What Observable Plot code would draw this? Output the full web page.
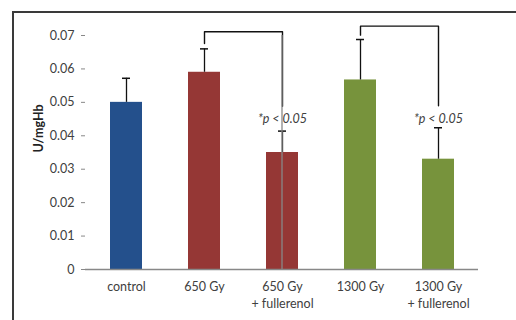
<!DOCTYPE html>
<html>
<head>
<meta charset="utf-8">
<script src="https://cdn.jsdelivr.net/npm/d3@7"></script>
<script src="https://cdn.jsdelivr.net/npm/@observablehq/plot@0.6"></script>
<style>
  html, body { margin: 0; padding: 0; background: #fff; }
  #wrap { position: relative; width: 516px; height: 320px; overflow: hidden; }
  #frame { position: absolute; left: 12px; top: 11px; width: 520px; height: 320px;
           border-top: 2px solid #3a3a3a; border-left: 2px solid #3a3a3a; pointer-events: none; }
</style>
</head>
<body>
<div id="wrap"><div id="frame"></div></div>
<script>
const categories = ["control", "650 Gy", "650 Gy\n+ fullerenol", "1300 Gy", "1300 Gy\n+ fullerenol"];
const values = [0.050, 0.059, 0.035, 0.0567, 0.033];
const errors = [0.0072, 0.0070, 0.0064, 0.0121, 0.0094];
const colors = ["#24508C", "#953735", "#953735", "#77933C", "#77933C"];
const yTicks = [0, 0.01, 0.02, 0.03, 0.04, 0.05, 0.06, 0.07];

// significance brackets
const bracketFrom = ["650 Gy", "1300 Gy"];
const bracketTo = ["650 Gy\n+ fullerenol", "1300 Gy\n+ fullerenol"];
const bracketStart = [0.0676, 0.0701];
const bracketTop = [0.0711, 0.0728];
const bracketEnd = [0.0488, 0.0490];
const pLabel = "*p < 0.05";
const pLabelY = 0.0449;

const data = categories.map((c, i) => ({cat: c, v: values[i], e: errors[i], top: values[i] + errors[i], color: colors[i]}));
const bracketPts = [];
bracketFrom.forEach((f, i) => {
  bracketPts.push({b: i, x: f, y: bracketStart[i]});
  bracketPts.push({b: i, x: f, y: bracketTop[i]});
  bracketPts.push({b: i, x: bracketTo[i], y: bracketTop[i]});
  bracketPts.push({b: i, x: bracketTo[i], y: bracketEnd[i]});
});
const labels = bracketTo.map(t => ({x: t, y: pLabelY, t: pLabel}));

const chart = Plot.plot({
  width: 516,
  height: 320,
  marginLeft: 85,
  marginRight: 38,
  marginTop: 35,
  marginBottom: 51,
  style: {fontFamily: "Lato, 'Open Sans', sans-serif", fontSize: "12px", color: "#404040", background: "transparent"},
  x: {domain: categories, paddingInner: 0.59, paddingOuter: 0.295, align: 0.5},
  y: {domain: [0, 0.07]},
  marks: [
    Plot.barY(data, {x: "cat", y: "v", fill: "color"}),
    Plot.ruleX(data, {x: "cat", y1: "v", y2: "top", stroke: "#111", strokeWidth: 1.3}),
    Plot.tickY(data, {x: "cat", y: "top", stroke: "#111", strokeWidth: 1.5, insetLeft: 12, insetRight: 12}),
    Plot.line(bracketPts, {x: "x", y: "y", z: "b", stroke: "#111", strokeWidth: 1.4, curve: "linear"}),
    Plot.text(labels, {x: "x", y: "y", text: "t", fontStyle: "italic", fontSize: 12.5, fill: "#404040"}),
    Plot.ruleY([0], {stroke: "#888", strokeWidth: 1.3}),
    Plot.ruleX([0], {frameAnchor: "left", x: null, y1: 0, y2: 0.07, stroke: "#888", strokeWidth: 1.3}),
    Plot.axisY({ticks: yTicks, tickFormat: d => d === 0 ? "0" : d.toFixed(2), tickSize: 4, tickPadding: 7, stroke: "#888", fontSize: 12.5, label: null}),
    Plot.axisX({tickSize: 0, tickPadding: 10, lineHeight: 1.35, fontSize: 12.5, label: null}),
    Plot.text(["U/mgHb"], {frameAnchor: "left", dx: -47, rotate: -90, fontWeight: "bold", fontSize: 12.5, fill: "#222"})
  ]
});
document.getElementById("wrap").prepend(chart);
</script>
</body>
</html>
